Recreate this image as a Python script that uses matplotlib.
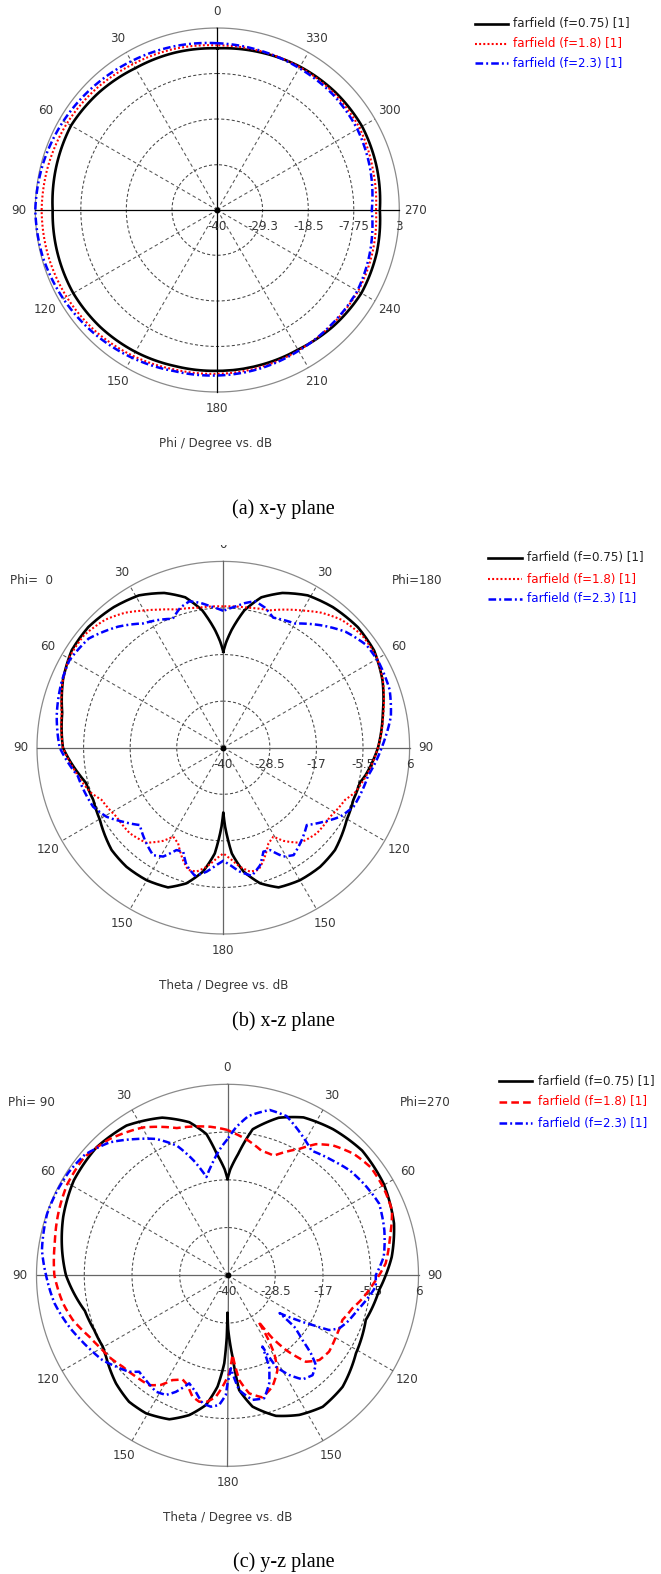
import numpy as np
import matplotlib
matplotlib.use("Agg")
import matplotlib.pyplot as plt
from matplotlib.lines import Line2D
from matplotlib.patches import Rectangle

plt.rcParams['font.family'] = ['DejaVu Sans']
plt.rcParams['lines.scale_dashes'] = False

# ---------------- DATA ----------------
labels = ["farfield (f=0.75) [1]", "farfield (f=1.8) [1]", "farfield (f=2.3) [1]"]

# (a) x-y plane, Phi in degrees (counter-clockwise from top), values in dB
a_phi = [0, 15, 30, 45, 60, 75, 90, 105, 120, 135, 150, 165, 180,
         195, 210, 225, 240, 255, 270, 285, 300, 315, 330, 345, 360]
a_black = [-1.8, -1.5, -1.3, -0.6, -0.1, -0.6, -1.1, -0.9, -0.7, -0.9, -1.3, -1.8, -2.0,
           -2.0, -1.9, -1.2, -0.7, -1.0, -1.6, -1.0, -0.5, -0.6, -0.9, -1.4, -1.8]
a_red = [-1.1, -0.6, -0.2, 0.5, 1.0, 1.3, 1.5, 1.4, 1.1, 0.6, -0.2, -1.0, -1.3,
         -1.5, -1.7, -1.7, -1.6, -2.0, -2.5, -2.0, -1.2, -1.0, -1.0, -1.1, -1.1]
a_blue = [-0.6, 0.0, 0.6, 1.3, 2.0, 2.6, 3.0, 2.7, 2.0, 1.2, 0.3, -0.6, -0.9,
          -1.2, -1.6, -1.8, -1.8, -2.6, -3.5, -2.6, -1.8, -1.4, -1.3, -1.0, -0.6]

# (b) x-z plane: Phi=0 side (left) and Phi=180 side (right), Theta in degrees
b_black_l_t = [0, 1.5, 4, 8.7, 14.2, 20.9, 29, 37.9, 48.2, 57.2, 67, 77.8, 90, 100.8, 104.4,
               111.9, 120.3, 132.5, 140.9, 149.9, 158.4, 164.8, 170.7, 175.4, 178.7, 180]
b_black_l_v = [-16.3, -14.0, -10.9, -5.7, -1.7, 0.9, 3.0, 4.0, 4.7, 4.5, 3.0, 0.7, -0.4, -3.9, -5.0,
               -5.4, -4.7, -2.6, -2.1, -2.2, -2.9, -5.3, -9.0, -13.8, -20.5, -24.0]
b_black_r_t = [0, 1.5, 4, 8.7, 14.2, 20.9, 29, 37.9, 48.2, 57.2, 67, 77.8, 90, 100.8, 104.4,
               111.9, 120.3, 132.5, 140.9, 149.9, 158.4, 164.8, 170.7, 175.4, 178.7, 180]
b_black_r_v = [-16.3, -14.0, -10.9, -5.7, -1.7, 0.9, 3.0, 4.0, 4.6, 4.3, 2.7, 0.3, -1.8, -4.2, -5.2,
               -5.4, -4.7, -2.6, -2.1, -2.2, -2.9, -5.3, -9.0, -13.8, -20.5, -24.0]

b_red_l_t = [0, 10.2, 18.6, 24.6, 30.3, 36, 42.7, 51, 59.4, 67, 78, 90, 98, 108.6, 113.2,
             122.9, 132.5, 141, 147.1, 150.6, 154.7, 160.3, 163.9, 167.8, 172, 176.5, 180]
b_red_l_v = [-5.1, -4.9, -4.0, -2.5, -0.8, 1.2, 3.0, 4.2, 4.1, 3.0, 0.8, -0.4, -2.7, -5.4, -7.3,
             -8.6, -8.7, -9.8, -12.6, -14.8, -13.9, -10.5, -8.6, -8.7, -10.3, -12.6, -13.9]
b_red_r_t = [0, 10.2, 18.7, 24.6, 30.3, 36, 42.7, 51, 59.4, 67, 78, 90, 98, 108.6, 113.2,
             122.9, 132.5, 141, 147.1, 150.6, 154.7, 160.3, 163.9, 167.8, 172, 176.5, 180]
b_red_r_v = [-5.1, -4.9, -4.2, -2.5, -0.8, 1.2, 3.0, 4.1, 4.0, 2.8, 0.4, -1.8, -3.4, -5.6, -7.3,
             -8.6, -8.7, -9.8, -12.6, -14.8, -13.9, -10.5, -8.6, -8.7, -10.3, -12.6, -13.9]

b_blue_l_t = [0, 5, 9, 13, 17, 21.4, 27, 32.8, 41, 51, 60.4, 68, 79, 90, 101, 114.4, 120.6,
              126.4, 132.8, 139.6, 146.8, 151.1, 155.4, 158.9, 162.6, 167.5, 172.3, 176.7, 180]
b_blue_l_v = [-6.2, -5.0, -3.8, -2.9, -3.8, -5.8, -4.6, -3.5, -0.4, 2.8, 3.7, 3.1, 1.9, 0.4, -3.4,
              -4.7, -6.5, -9.2, -11.9, -10.1, -8.3, -9.3, -12.2, -12.5, -9.6, -7.6, -9.1, -11.0, -12.1]
b_blue_r_t = [0, 5, 8.5, 12.2, 16.5, 21, 30, 38.4, 46.5, 54.4, 61.6, 70.8, 79.4, 86, 90, 101,
              114.4, 120.6, 126.4, 132.8, 139.6, 146.8, 151.1, 155.4, 158.9, 162.6, 167.5, 172.3, 176.7, 180]
b_blue_r_v = [-6.2, -5.0, -3.9, -3.0, -3.9, -5.6, -4.6, -1.4, 1.6, 3.5, 3.8, 3.5, 2.1, 0.2, -0.9, -3.6,
              -4.7, -6.5, -9.2, -11.9, -10.1, -8.3, -9.3, -12.2, -12.5, -9.6, -7.6, -9.1, -11.0, -12.1]

# (c) y-z plane: Phi=90 side (left) and Phi=270 side (right), Theta in degrees
c_black_l_t = [0, 1.5, 5, 8.5, 14, 22.5, 34, 45.6, 58.3, 70.4, 81.3, 90, 98, 104, 112.3, 119.7,
               123.8, 134.1, 142.1, 149.4, 158, 164.7, 170.5, 174.9, 177.9, 179.3, 180]
c_black_l_v = [-16.8, -14.5, -10.7, -5.6, -2.0, 1.1, 3.5, 4.1, 3.5, 2.0, 0.3, -1.1, -3.1, -4.6, -5.3, -5.4,
               -4.8, -2.6, -1.4, -1.4, -2.6, -5.1, -8.3, -13.1, -18.8, -25.0, -31.0]
c_black_r_t = [0, 1.5, 5, 9.8, 18, 25.7, 35.8, 47.2, 59.6, 72.7, 83.6, 90, 95.5, 107.9, 121.3,
               134.1, 144.1, 152.8, 161, 169.2, 174.2, 176.5, 179.3, 180]
c_black_r_v = [-16.8, -14.5, -10.7, -4.3, -0.1, 2.2, 3.4, 4.2, 3.6, 2.0, -0.2, -1.9, -3.3, -5.0, -3.8,
               -1.4, -0.9, -2.2, -4.2, -7.8, -12.2, -20.4, -27.0, -31.0]

c_red_l_t = [0, 6.5, 19, 29.7, 40.9, 50.6, 60.3, 69, 79.5, 90, 99.6, 106, 113.9, 120, 125.4, 131,
             137.9, 144.5, 148.7, 152.3, 156.6, 160, 163.9, 167.4, 171, 174.5, 177.4, 180]
c_red_l_v = [-5.0, -4.0, -2.5, 1.0, 3.4, 4.7, 4.4, 3.5, 2.3, 1.7, 0.2, -1.2, -3.6, -4.8, -5.5, -6.5,
             -7.1, -7.5, -9.1, -11.5, -12.7, -11.9, -9.6, -8.8, -9.2, -10.6, -13.1, -15.5]
c_red_r_t = [0, 3.4, 8.9, 15.2, 21.2, 29.6, 34, 39.1, 46.2, 53, 60.5, 68.5, 76.7, 85.7, 90, 93.8,
             99.7, 104.8, 111.2, 119.5, 126.9, 132.7, 137.8, 142, 144.5, 146.3, 147.2, 149.1, 152.2,
             158, 164, 169.6, 173.6, 176.4, 179, 180]
c_red_r_v = [-5.0, -5.9, -7.2, -8.9, -9.1, -5.0, -1.9, 0.3, 2.2, 3.2, 3.1, 2.6, 0.2, -1.8, -3.5, -5.0,
             -7.0, -8.9, -10.3, -10.0, -9.4, -9.9, -11.9, -17.2, -21.5, -26.6, -22.6, -18.1, -14.2,
             -11.1, -9.4, -11.1, -14.6, -20.8, -16.4, -15.5]

c_blue_l_t = [0, 3.9, 8, 12.1, 16.4, 21.3, 27.7, 34.3, 41.6, 49.8, 57, 64, 71.2, 82.3, 90, 99.2,
              109.2, 113, 118.7, 124.1, 129.3, 134.4, 137.5, 142.1, 148.4, 152.8, 156.1, 160.5,
              164.8, 169, 172.8, 176.3, 179.2, 180]
c_blue_l_v = [-7.2, -9.9, -13.0, -15.8, -11.2, -6.5, -2.9, -0.3, 2.8, 5.0, 5.6, 5.8, 5.9, 5.1, 3.7, 2.2,
              -0.2, -1.2, -2.5, -3.6, -5.3, -6.8, -8.5, -8.0, -7.1, -7.6, -9.3, -12.4,
              -10.9, -8.6, -8.1, -8.7, -11.2, -14.0]
c_blue_r_t = [0, 3.3, 7.5, 14.3, 20.3, 28.8, 34, 42.6, 49.4, 57.6, 64.7, 74, 83.2, 90, 94.4, 99.3,
              105, 111.1, 115.4, 118.3, 120.3, 123.5, 126, 127.6, 130.8, 133.1, 135.4, 139.6, 144.2,
              148.3, 152.1, 153.9, 155.5, 158.9, 163.4, 168.7, 174.2, 177.9, 180]
c_blue_r_v = [-7.2, -4.3, -1.3, 1.1, 0.9, -2.1, -3.8, -2.5, -1.2, -0.3, 0.4, -0.7, -2.1, -4.3, -4.2, -5.8,
              -7.6, -9.0, -10.2, -12.2, -16.3, -21.2, -24.5, -19.7, -16.2, -12.5, -9.7, -8.4, -9.1,
              -11.8, -15.1, -20.9, -15.8, -12.1, -9.1, -9.4, -12.2, -17.6, -14.0]

a_rings = [-40, -29.3, -18.5, -7.75, 3]
a_ring_labels = ["-40", "-29.3", "-18.5", "-7.75", "3"]
bc_rings = [-40, -28.5, -17, -5.5, 6]
bc_ring_labels = ["-40", "-28.5", "-17", "-5.5", "6"]

# ---------------- FIGURE ----------------
W, H = 661, 1574
fig = plt.figure(figsize=(W / 100, H / 100), dpi=100)
fig.patch.set_facecolor("white")

def fx(x):
    return x / W

def fy(y):
    return 1 - y / H

FS = 8.6
TXT = "#383838"

STY = {
    "black": dict(color="black", lw=1.9, ls="-"),
    "reddot": dict(color="#ff0000", lw=1.5, ls=(0, (1.4, 1.6))),
    "reddash": dict(color="#ff0000", lw=1.8, ls=(0, (5.5, 3.0))),
    "blue": dict(color="#0000ff", lw=1.8, ls=(0, (5.5, 2.2, 1.4, 2.2))),
}

def make_polar(cx, cy, R, rings, ring_labels, axis_color, theta_labels):
    ax = fig.add_axes([fx(cx - R), fy(cy + R), 2 * R / W, 2 * R / H], projection="polar")
    ax.set_theta_zero_location("N")
    ax.set_theta_direction(1)
    rmin, rmax = rings[0], rings[-1]
    ax.set_ylim(rmin, rmax)
    ax.grid(False)
    ax.set_xticks([])
    ax.set_yticks([])
    ax.spines["polar"].set_visible(False)
    t = np.linspace(0, 2 * np.pi, 721)
    for rv in rings[1:-1]:
        ax.plot(t, np.full_like(t, rv), color="#454545", lw=0.75, ls=(0, (2.2, 1.6)), zorder=1)
    ax.plot(t, np.full_like(t, rmax), color="#8a8a8a", lw=0.9, zorder=1, clip_on=False)
    for ang in [30, 60, 120, 150, 210, 240, 300, 330]:
        ax.plot([np.deg2rad(ang)] * 2, [rmin, rmax], color="#555555", lw=0.75,
                ls=(0, (2.5, 2.0)), zorder=1)
    for ang in [0, 90, 180, 270]:
        ax.plot([np.deg2rad(ang)] * 2, [rmin, rmax], color=axis_color, lw=0.9, zorder=1,
                clip_on=False)
    ax.plot([0], [rmin], "o", color="black", ms=3.2, zorder=5)
    rl = rmin + (rmax - rmin) * (R + 16.5) / R
    for ang, txt in theta_labels:
        ax.text(np.deg2rad(ang), rl, txt, ha="center", va="center", fontsize=FS, color=TXT)
    for rv, lab in zip(rings, ring_labels):
        ax.annotate(lab, xy=(np.deg2rad(270), rv), xytext=(0, -11.8), textcoords="offset points",
                    ha="center", va="center", fontsize=FS, color=TXT)
    return ax

def draw(ax, th, vals, sty, z):
    (ln,) = ax.plot(np.deg2rad(np.asarray(th, float)), vals, zorder=z, clip_on=False,
                    solid_joinstyle="round", **STY[sty])
    # let the polar transform draw each segment along the polar grid (arc-like)
    ln.get_path()._interpolation_steps = 12

def draw_lr(ax, tl, vl, tr, vr, sty, z):
    th = list(tl) + [360 - v for v in tr[::-1]]
    vals = list(vl) + list(vr[::-1])
    draw(ax, th, vals, sty, z)

def legend(x0, x1, xt, ys, styles, colors):
    for y, sty, col, lab in zip(ys, styles, colors, labels):
        s = STY[sty]
        fig.add_artist(Line2D([fx(x0), fx(x1)], [fy(y), fy(y)], transform=fig.transFigure,
                              color=s["color"], lw=s["lw"], ls=s["ls"]))
        fig.text(fx(xt), fy(y), lab, ha="left", va="center", fontsize=FS, color=col)

a_labels = [(a, str(a)) for a in range(0, 360, 30)]
bc_labels = [(0, "0"), (180, "180")] + [(a, str(a)) for a in (30, 60, 90, 120, 150)] + \
            [(360 - a, str(a)) for a in (30, 60, 90, 120, 150)]

# (a)
axa = make_polar(217.3, 210.0, 182.0, a_rings, a_ring_labels, "#000000", a_labels)
draw(axa, a_phi, a_black, "black", 3)
draw(axa, a_phi, a_red, "reddot", 4)
draw(axa, a_phi, a_blue, "blue", 5)
legend(475, 508, 513, [24, 44, 63], ["black", "reddot", "blue"], ["#222222", "#ff0000", "#0000ff"])
fig.text(fx(216), fy(443), "Phi / Degree vs. dB", ha="center", va="center", fontsize=FS, color=TXT)
fig.text(fx(283), fy(509), "(a) x-y plane", ha="center", va="center", fontsize=14.5,
         family="Liberation Serif", color="black")

# (b)
axb = make_polar(223.3, 747.7, 186.3, bc_rings, bc_ring_labels, "#666666", bc_labels)
draw_lr(axb, b_black_l_t, b_black_l_v, b_black_r_t, b_black_r_v, "black", 3)
draw_lr(axb, b_red_l_t, b_red_l_v, b_red_r_t, b_red_r_v, "reddot", 4)
draw_lr(axb, b_blue_l_t, b_blue_l_v, b_blue_r_t, b_blue_r_v, "blue", 5)
legend(488, 522, 527, [558, 579, 599], ["black", "reddot", "blue"], ["#222222", "#ff0000", "#0000ff"])
fig.text(fx(10), fy(580), "Phi=  0", ha="left", va="center", fontsize=FS, color=TXT)
fig.text(fx(392), fy(580), "Phi=180", ha="left", va="center", fontsize=FS, color=TXT)
fig.text(fx(224), fy(985), "Theta / Degree vs. dB", ha="center", va="center", fontsize=FS, color=TXT)
fig.text(fx(283), fy(1021), "(b) x-z plane", ha="center", va="center", fontsize=14.5,
         family="Liberation Serif", color="black")

# (c)
axc = make_polar(227.5, 1275.3, 191.0, bc_rings, bc_ring_labels, "#666666", bc_labels)
draw_lr(axc, c_black_l_t, c_black_l_v, c_black_r_t, c_black_r_v, "black", 3)
draw_lr(axc, c_red_l_t, c_red_l_v, c_red_r_t, c_red_r_v, "reddash", 4)
draw_lr(axc, c_blue_l_t, c_blue_l_v, c_blue_r_t, c_blue_r_v, "blue", 5)
legend(499, 532, 538, [1081, 1102, 1123], ["black", "reddash", "blue"], ["#222222", "#ff0000", "#0000ff"])
fig.text(fx(8), fy(1103), "Phi= 90", ha="left", va="center", fontsize=FS, color=TXT)
fig.text(fx(400), fy(1103), "Phi=270", ha="left", va="center", fontsize=FS, color=TXT)
fig.text(fx(228), fy(1518), "Theta / Degree vs. dB", ha="center", va="center", fontsize=FS, color=TXT)
fig.text(fx(284), fy(1562), "(c) y-z plane", ha="center", va="center", fontsize=14.5,
         family="Liberation Serif", color="black")

# the "0" label of panel (b) is cut at its top in the reference
fig.add_artist(Rectangle((fx(205), fy(545)), fx(40), 15 / H, transform=fig.transFigure,
                         facecolor="white", edgecolor="none", zorder=20))

fig.savefig("out.png", dpi=100, facecolor="white")
